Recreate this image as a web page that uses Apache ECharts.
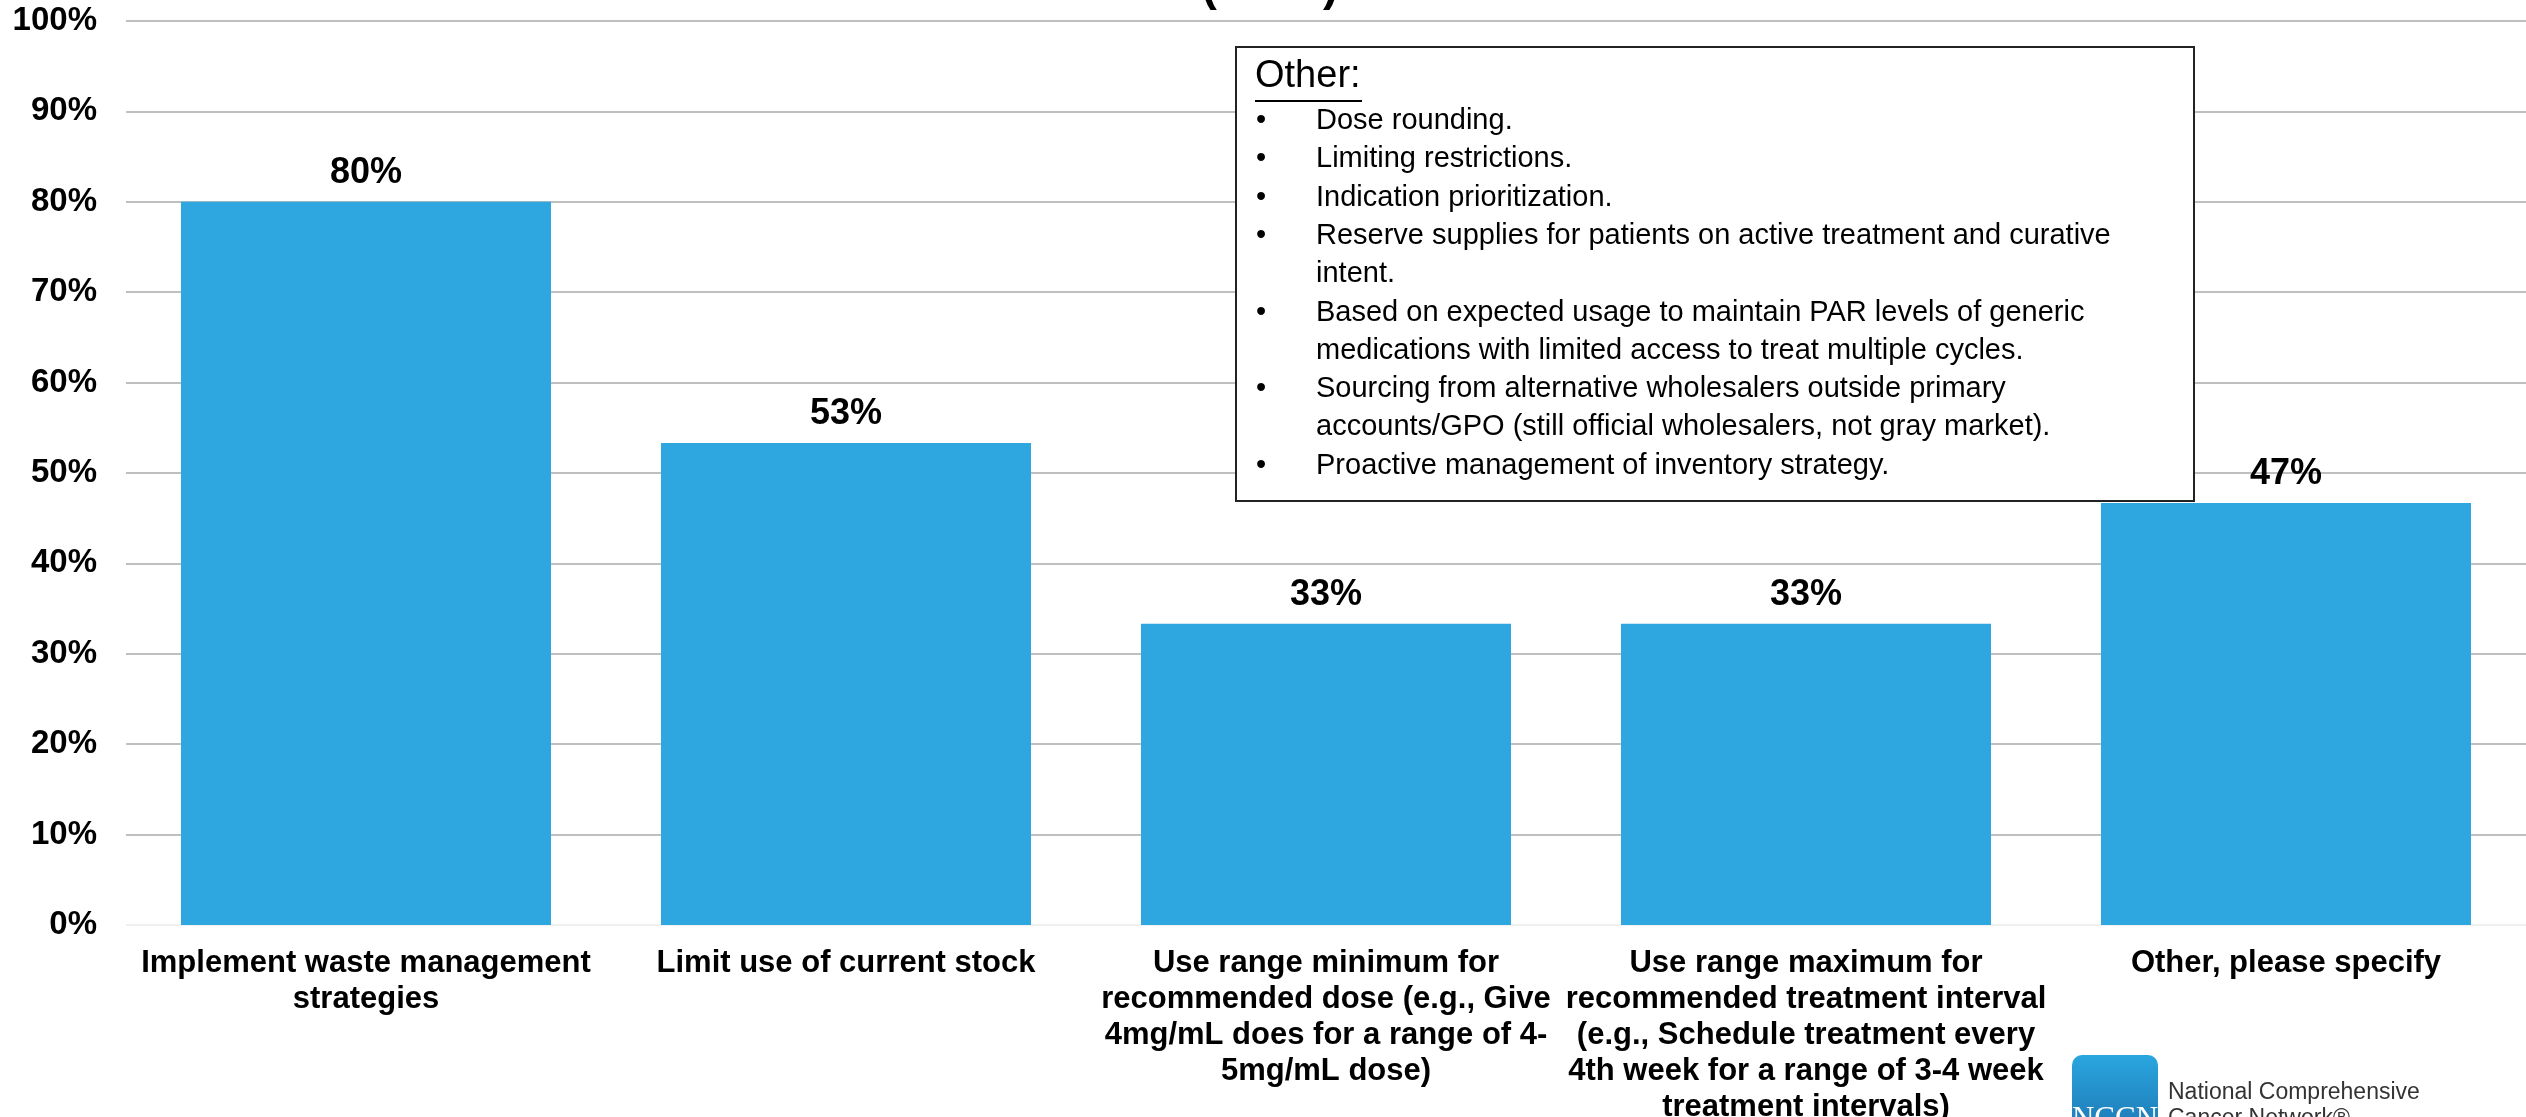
<!DOCTYPE html>
<html>
<head>
<meta charset="utf-8">
<script src="https://cdn.jsdelivr.net/npm/echarts@6/dist/echarts.min.js"></script>
<style>
    html, body { margin: 0; padding: 0; background: #fff; }
    #main { width: 2526px; height: 1117px; }
</style>
</head>
<body>
<div id="main"></div>
<script>
// categories (line breaks as on the slide)
var categories = [
    'Implement waste management\nstrategies',
    'Limit use of current stock',
    'Use range minimum for\nrecommended dose (e.g., Give\n4mg/mL does for a range of 4-\n5mg/mL dose)',
    'Use range maximum for\nrecommended treatment interval\n(e.g., Schedule treatment every\n4th week for a range of 3-4 week\ntreatment intervals)',
    'Other, please specify'
];
// percentage of respondents (n=15)
var percents = [80, 53.33, 33.33, 33.33, 46.67];

var yTicks = [0, 10, 20, 30, 40, 50, 60, 70, 80, 90, 100];

var otherTitle = 'Other:';
// each entry = one text line, bullet true when a new item starts
var otherLines = [
    ['Dose rounding.', true],
    ['Limiting restrictions.', true],
    ['Indication prioritization.', true],
    ['Reserve supplies for patients on active treatment and curative', true],
    ['intent.', false],
    ['Based on expected usage to maintain PAR levels of generic', true],
    ['medications with limited access to treat multiple cycles.', false],
    ['Sourcing from alternative wholesalers outside primary', true],
    ['accounts/GPO (still official wholesalers, not gray market).', false],
    ['Proactive management of inventory strategy.', true]
];

var myChart = echarts.init(document.getElementById('main'));

// text box on the right
var boxX = 1236, boxY = 47, boxW = 958, boxH = 454;
var firstBaseline = 132, lineStep = 38.3;
var graphics = [
    {
        type: 'rect',
        shape: { x: boxX, y: boxY, width: boxW, height: boxH },
        style: { fill: '#fff', stroke: '#222', lineWidth: 2 },
        z: 10
    },
    {
        type: 'text',
        x: 1255, y: 96,
        style: {
            text: otherTitle, font: '38px "Liberation Sans", Arial',
            fill: '#000', verticalAlign: 'bottom'
        },
        z: 11
    },
    {
        type: 'line',
        shape: { x1: 1255, y1: 101, x2: 1362, y2: 101 },
        style: { stroke: '#000', lineWidth: 2 },
        z: 11
    }
];
otherLines.forEach(function(item, i) {
    var yMid = firstBaseline + i * lineStep - 11;
    if (item[1]) {
        graphics.push({
            type: 'text', x: 1256, y: yMid,
            style: { text: '•', font: '29px "Liberation Sans", Arial', fill: '#000', verticalAlign: 'middle' },
            z: 11
        });
    }
    graphics.push({
        type: 'text', x: 1316, y: yMid,
        style: { text: item[0], font: '29px "Liberation Sans", Arial', fill: '#000', verticalAlign: 'middle' },
        z: 11
    });
});

// title, mostly cut off at the top of the picture
graphics.push({
    type: 'text', x: 1270, y: 10,
    style: {
        text: '(n=15)', font: 'bold 46px "Liberation Sans", Arial',
        fill: '#000', align: 'center', verticalAlign: 'bottom'
    }
});

// NCCN logo bottom right
graphics.push({
    type: 'rect',
    shape: { x: 2072, y: 1055, width: 86, height: 100, r: 10 },
    style: {
        fill: new echarts.graphic.LinearGradient(0, 0, 0, 1, [
            { offset: 0, color: '#2aa6df' },
            { offset: 1, color: '#1a6aa8' }
        ])
    }
});
graphics.push({
    type: 'text', x: 2115, y: 1104,
    style: { text: 'NCCN', font: '31px "Liberation Serif", serif', fill: '#fff', align: 'center', verticalAlign: 'top' }
});
graphics.push({
    type: 'text', x: 2168, y: 1093,
    style: { text: 'National Comprehensive', font: '23px "Liberation Sans", Arial', fill: '#333', verticalAlign: 'middle' }
});
graphics.push({
    type: 'text', x: 2168, y: 1119,
    style: { text: 'Cancer Network®', font: '23px "Liberation Sans", Arial', fill: '#333', verticalAlign: 'middle' }
});

// first grid line (0%) is very faint
var splitColors = yTicks.map(function(t) { return t === 0 ? '#f0f0f0' : '#bfbfbf'; });

option = {
    animation: false,
    backgroundColor: '#fff',
    grid: { left: 126, right: 0, top: 21, bottom: 192, containLabel: false, outerBoundsMode: 'none' },
    xAxis: {
        type: 'category',
        data: categories,
        axisLine: { show: false },
        axisTick: { show: false },
        axisLabel: {
            interval: 0,
            margin: 20,
            color: '#000',
            fontFamily: '"Liberation Sans", Arial',
            fontWeight: 'bold',
            fontSize: 31,
            lineHeight: 36
        }
    },
    yAxis: {
        type: 'value',
        min: 0,
        max: 100,
        interval: 10,
        axisLine: { show: false },
        axisTick: { show: false },
        splitLine: { lineStyle: { color: splitColors, width: 2 } },
        axisLabel: {
            formatter: '{value}%',
            margin: 29,
            color: '#000',
            fontFamily: '"Liberation Sans", Arial',
            fontWeight: 'bold',
            fontSize: 33
        }
    },
    series: [
        {
            type: 'bar',
            data: percents,
            barWidth: 370,
            itemStyle: { color: '#2ea6df' },
            label: {
                show: true,
                position: 'top',
                distance: 11,
                color: '#000',
                fontFamily: '"Liberation Sans", Arial',
                fontWeight: 'bold',
                fontSize: 36,
                formatter: function(p) { return Math.round(p.value) + '%'; }
            }
        }
    ],
    graphic: graphics
};
myChart.setOption(option, true);
</script>
</body>
</html>
